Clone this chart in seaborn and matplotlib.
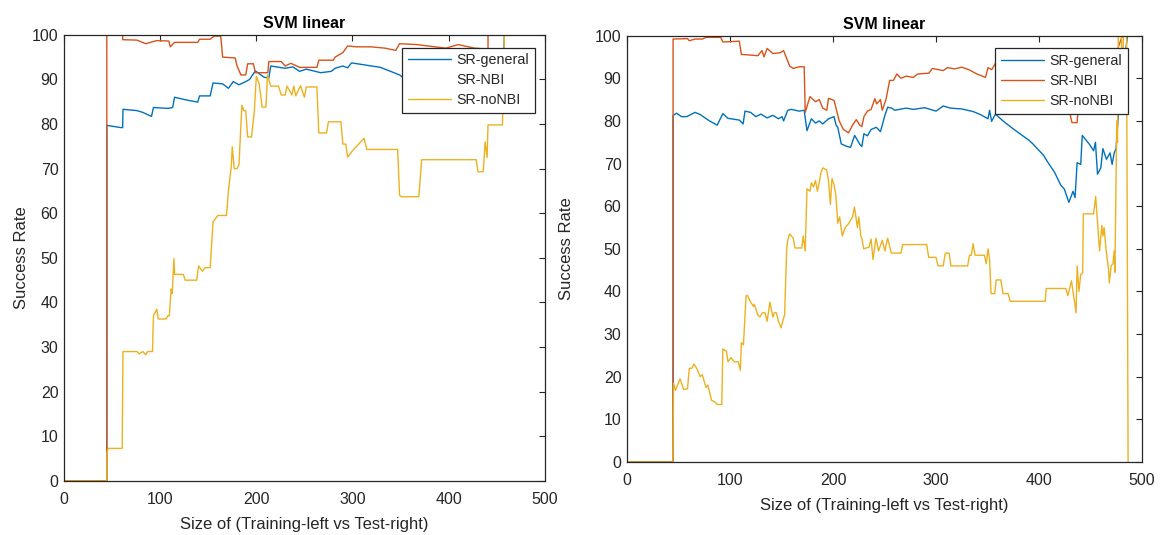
import matplotlib
matplotlib.use("Agg")
import matplotlib.pyplot as plt
import seaborn as sns
import pandas as pd

# ---------------- data (x, success rate) ----------------
series_names = ["SR-general", "SR-NBI", "SR-noNBI"]
series_colors = ["#0072BD", "#D95319", "#EDB120"]

left_general = [(0,0),(44.5,0),(44.5,79.7),(59,79.2),(61,79.2),(61.3,83.3),(76,83.0),(82,82.6),(91,81.7),
    (93,83.7),(108,83.5),(113,83.7),(115,86.0),(127,85.4),(139,84.9),(141,86.3),(152,86.3),(155,89.2),
    (165,89.0),(171,88.0),(176,89.5),(182,88.8),(189,89.5),(193,90.0),(199,91.9),(208,90.5),(213,90.3),
    (215,93.0),(230,92.5),(238,92.8),(245,91.8),(252,92.3),(267,91.5),(278,91.8),(282,92.5),(290,93.0),
    (295,92.6),(299,93.7),(329,92.7),(349,91.0),(353,90.4),(370,89.5),(400,89),(430,88.5),(456,88),
    (458,100),(500,100)]

left_nbi = [(0,0),(44.5,0),(44.5,100),(61,100),(61,98.9),(76,98.8),(85,98.0),(96.5,98.7),(109,98.6),
    (110.5,97.3),(115,98.3),(139,98.3),(141,99.0),(152,99.0),(156,99.7),(163,99.7),(165,95.0),(178,94.8),
    (180,93.0),(184,91.0),(189,91.0),(191,93.5),(197,93.5),(199,91.5),(212,91.5),(213,94.0),(226,94.0),
    (230,93.0),(236,93.6),(245,92.7),(263,92.7),(265,94.3),(280,94.3),(282,95.0),(290,96.0),(295,97.5),
    (304,97.3),(319,97.3),(334,97.0),(345,96.5),(349,98.0),(367,97.8),(397,97.0),(410,97.8),(427,97.0),
    (441,96.8),(441,100),(500,100)]

left_nonbi = [(0,0),(44.5,0),(44.7,6.5),(46,7.3),(60.5,7.3),(61.3,29),(76,29),(78,28.5),(82,29),(85,28.3),
    (87,29),(92,29),(93,37),(96.5,38.5),(98,36.3),(106,36.3),(108,37),(109.5,37),(111.4,43),(112.5,42),
    (114.3,49.8),(115,46.3),(124,46.3),(126,45),(138,45),(140,48.2),(144,47),(146.6,47.8),(152,47.8),
    (155,58.1),(160,59.5),(169,59.5),(171,65),(174,70.6),(175,74.9),(177,70),(180,70),(182,71),(185,84.2),
    (187,83),(189,83),(191,77.1),(195,77.1),(198,83),(200,90.7),(203,89),(206,83.8),(210,83.8),(211.6,91),
    (215,88.5),(223,88.5),(226,86.5),(230,86.5),(232,88.5),(237,86.5),(239,88.5),(241,86.3),(246,88.6),
    (250,86),(252,88.3),(263,88.3),(265,78),(273,78),(275,80.5),(288,80.5),(290,75.5),(293,75.5),
    (295,72.6),(300,74),(312,76.8),(315,74.3),(347,74.3),(349,64),(351,63.7),(369,63.7),(372,72),
    (428.7,72),(430.6,69.3),(436,69.3),(438,76),(440,72.5),(441,79.8),(456,79.8),(458,100),(500,100)]

right_general = [(0,0),(44.7,0),(44.7,81.3),(48,81.8),(53,81),(58,81),(66,82),(71,81.5),(80,80),(87.5,79),
    (93,81.7),(98,80.6),(109,80.2),(112.7,79.3),(114.5,82.3),(120,82),(125,81),(130,81.6),(136,80.7),
    (141.6,81.3),(147,80.5),(150.5,81),(152,80),(156,82.5),(159.6,82.7),(167,82.3),(172,82.5),(174.7,77.7),
    (179,80.5),(183,79.5),(186.6,80),(190,79.3),(195.6,80.5),(201,81),(203,79),(204.6,78.5),(208,74.6),
    (213.6,74),(217,73.8),(221,76.6),(226,74.5),(228,74),(230,77),(233.4,76.5),(237,78),(242,78.5),
    (246,77.5),(247.8,79),(250,81),(253,83.2),(257,83),(260,82.5),(271,83),(278,82.7),(289,83.1),
    (300,82.3),(307,83.5),(314,83),(325,82.8),(336,82.2),(343,81.5),(350.5,80.5),(352,82.5),(354,79.9),
    (357.7,81.6),(365,80),(375.7,78),(390,75.5),(393.7,74.7),(404.5,71.9),(408,70.5),(415,68),(421,65),
    (424.6,64),(429,60.9),(431.5,62.5),(433,63.5),(435,62),(437,70.2),(440.5,69.8),(442,76.6),(449,74.5),
    (453,73),(454.8,75),(456.8,67.5),(460,69),(462,73.5),(465.5,71),(469,72.5),(471,69.8),(473,72.5),
    (474.8,73.5),(478,85),(486,100),(500,100)]

right_nbi = [(0,0),(44.7,0),(44.7,99.2),(58.7,99.3),(60.5,98.8),(66,99.2),(73,99.2),(77,99.6),(91,99.6),
    (93,98.5),(109,98.7),(111,95.6),(127,95.3),(131,96.5),(133,95),(136,97),(141.6,95.8),(148.8,96),
    (152,96.5),(158,92.8),(161.4,92.3),(167,92.7),(172,92.7),(173,82),(177.6,85.7),(183,84.5),(186.6,85),
    (190,83),(194,82.5),(195.6,85.3),(201,84.8),(206,80),(210,78),(215,77.2),(219,79),(222.6,80.3),
    (226,79),(228,78.7),(230,81),(233.4,82.3),(237,82.7),(240.6,85.2),(242.4,84),(246,85),(247.8,82.5),
    (251.4,85),(253,87),(255,89.5),(258.6,89.5),(262,91),(266,90),(271,90.5),(278,90.2),(282,91),
    (293,91.2),(296.5,92.3),(307,91.8),(311,92.5),(318,92.2),(325,92.6),(332,92),(339.7,91),(345,90.5),
    (348,90.2),(350.5,92.5),(354,92),(357.7,93.5),(380,92.5),(410,90),(425,86),(430,81.8),(432,79.6),
    (437,79.6),(439,86),(460,92),(475,96),(481,100),(500,100)]

right_nonbi = [(0,0),(44.5,0),(45.2,18.5),(47,16.8),(51.5,19.5),(55,17),(58.7,17.2),(60.5,22),(63,22),
    (65,23),(68,21.8),(71,20),(73,20.5),(76.7,17.5),(78.5,18),(82,14.5),(85.7,14),(87.5,13.5),(92,13.5),
    (93,26.5),(96.5,26),(98,23.5),(101,24.5),(104,23.5),(108,23.5),(110,21.5),(111,28),(113,27.5),
    (115.6,39),(117,39),(120,37.5),(122.8,36.5),(123.5,37),(127,34.5),(129,34),(131.4,35),(134,35),
    (136,33),(138.7,37.5),(141.6,34),(143,35),(145,35),(147,33),(149.5,31.5),(151.7,33.5),(153,34.5),
    (155,50),(156,52),(157.8,53.5),(161.4,52.5),(163,50.2),(169.7,50.2),(171,53),(173,49.5),(174.7,64.1),
    (177.6,63.5),(179,65.5),(181,64.5),(183,66),(184.8,63.5),(186.6,65.5),(188.4,68),(190,69),
    (193.8,68.5),(195.6,66),(197.4,60.4),(199,66.5),(201,65),(202.8,62.5),(204.6,56),(206.4,57.5),
    (209,53),(211.8,55),(215.4,56),(219,57.5),(220.8,59.8),(223.7,55),(225,57.5),(227,53),(228,52.5),
    (229.8,50),(235,50.4),(237,52.3),(238.8,47.5),(241.7,52.5),(244.2,49.5),(247.8,52),(250.4,49.5),
    (253,52.5),(256.6,49),(266,49),(267.6,51),(291,51),(292.9,48),(300,48),(302,46),(307,46),(309,49),
    (312.7,49),(314.5,46),(330.7,46),(332.5,48.5),(334.3,48.5),(336,51.2),(337.9,48.5),(347,48.5),
    (348.8,46.5),(350.5,50),(352,47.5),(353.4,39.5),(357,39.5),(358.4,42.7),(363,42.7),(365,39.5),
    (370,39.5),(372,37.7),(406,37.7),(407,40.7),(426,40.7),(428,39),(431.5,42.5),(433.3,39.5),(436,35),
    (437,46),(438.8,40),(440.5,44),(442.4,44.3),(443,58.2),(453,58.2),(455,62.3),(458,52),(458.8,49.5),
    (461,55.5),(462,53),(463.2,55),(465,50),(467.6,45),(468.3,42),(470,46),(471.8,46.5),(473,49.5),
    (473.7,44.5),(475.5,80),(476.2,75),(477,100),(480,100),(481,85),(482,100),(485,100),(486.5,0)]

x_ticks = [0, 100, 200, 300, 400, 500]
y_ticks = [0, 10, 20, 30, 40, 50, 60, 70, 80, 90, 100]
title_text = "SVM linear"
xlabel_text = "Size of (Training-left vs Test-right)"
ylabel_text = "Success Rate"

# ---------------- styling ----------------
sns.set_style("white")
plt.rcParams["font.family"] = ["Liberation Sans", "DejaVu Sans"]
DARK = "#262626"


def make_frame(series_list):
    rows = []
    for name, pts in zip(series_names, series_list):
        for i, (x, y) in enumerate(pts):
            rows.append({"order": i, "x": x, "y": y, "series": name})
    return pd.DataFrame(rows)


fig = plt.figure(figsize=(11.64, 5.35), dpi=100)
ax_l = fig.add_axes([0.055, 0.101, 0.413, 0.834])
ax_r = fig.add_axes([0.5387, 0.1364, 0.4424, 0.797])

panels = [
    (ax_l, [left_general, left_nbi, left_nonbi], (0.979, 0.971), True, 2),
    (ax_r, [right_general, right_nbi, right_nonbi], (0.972, 0.970), False, 15),
]

palette = dict(zip(series_names, series_colors))

for ax, data, anchor, hide_nbi, ylpad in panels:
    df = make_frame(data)
    sns.lineplot(data=df, x="x", y="y", hue="series", palette=palette,
                 hue_order=series_names, estimator=None, sort=False,
                 units="series", linewidth=1.0, ax=ax, legend=True)
    ax.set_xlim(0, 500)
    ax.set_ylim(0, 100)
    ax.set_xticks(x_ticks)
    ax.set_yticks(y_ticks)
    ax.tick_params(direction="in", top=True, right=True, length=4, width=0.8,
                   colors=DARK, labelsize=11.5)
    ax.tick_params(axis="x", pad=8)
    ax.tick_params(axis="y", pad=4)
    for sp in ax.spines.values():
        sp.set_visible(True)
        sp.set_color(DARK)
        sp.set_linewidth(0.9)
    ax.set_title(title_text, fontsize=11.5, fontweight="bold", color="black", pad=5)
    ax.set_xlabel(xlabel_text, fontsize=12, color=DARK, labelpad=7)
    ax.set_ylabel(ylabel_text, fontsize=12, color=DARK, labelpad=ylpad)
    handles, labels = ax.get_legend_handles_labels()
    leg = ax.legend(handles, labels, loc="upper right", bbox_to_anchor=anchor,
                    borderaxespad=0, frameon=True, fancybox=False, framealpha=1,
                    edgecolor=DARK, fontsize=10.3, handlelength=3.0,
                    handletextpad=0.4, labelspacing=0.42, borderpad=0.4)
    leg.get_frame().set_linewidth(0.9)
    if hide_nbi:
        leg.get_lines()[1].set_visible(False)

fig.savefig("out.png", dpi=100)
